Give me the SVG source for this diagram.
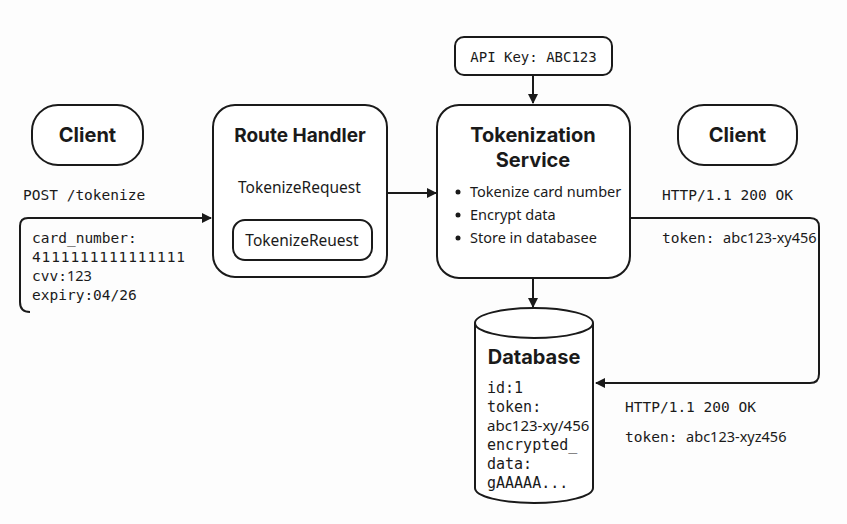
<svg xmlns="http://www.w3.org/2000/svg" width="847" height="524" viewBox="0 0 847 524">
<defs>
<marker id="arr" viewBox="0 0 10 10" refX="9" refY="5" markerWidth="10" markerHeight="10" markerUnits="userSpaceOnUse" orient="auto">
<path d="M0,0 L10,5 L0,10 z" fill="#1a1a1a"/>
</marker>
<style>
.box{fill:#fff;stroke:#1a1a1a;stroke-width:2}
.ln{fill:none;stroke:#1a1a1a;stroke-width:2}
.t{font-family:"Noto Sans","Liberation Sans",sans-serif;fill:#1a1a1a}
.b{font-family:Inter,"Noto Sans","Liberation Sans",sans-serif;font-weight:bold;fill:#1a1a1a}
.m{font-family:"DejaVu Sans Mono","Liberation Mono",monospace;fill:#1a1a1a}
</style>
</defs>
<rect width="847" height="524" fill="#fdfdfd"/>
<g id="connectors">
<path class="ln" d="M30,312 Q20,312 20,302 L20,226 Q20,218 28,218 L211,218" marker-end="url(#arr)"/>
<path class="ln" d="M387,193 L436,193" marker-end="url(#arr)"/>
<path class="ln" d="M533,75 L533,103" marker-end="url(#arr)"/>
<path class="ln" d="M533,278 L533,307" marker-end="url(#arr)"/>
<path class="ln" d="M630,218 L810,218 Q819,218 819,227 L819,374 Q819,383 810,383 L596,383" marker-end="url(#arr)"/>
</g>
<g id="client-left">
<rect class="box" x="32" y="105" width="111" height="60" rx="26"/>
<text class="b" x="87.5" y="142" font-size="20" text-anchor="middle">Client</text>
</g>
<g id="request-label">
<text class="m" x="23" y="200" font-size="14.5">POST /tokenize</text>
<text class="m" x="32" y="243" font-size="14.5">card_number:</text>
<text class="m" x="32" y="262" font-size="14.5" textLength="153">4111111111111111</text>
<text class="m" x="32" y="281" font-size="14.5">cvv:<tspan class="t">123</tspan></text>
<text class="m" x="32" y="300" font-size="14.5">expiry:04/26</text>
</g>
<g id="route-handler">
<rect class="box" x="213" y="105" width="174" height="172" rx="22"/>
<text class="b" x="300" y="142" font-size="19" text-anchor="middle">Route Handler</text>
<text class="t" x="238" y="193" font-size="15.5">TokenizeRequest</text>
<rect class="box" x="233" y="220" width="139" height="40" rx="12"/>
<text class="t" x="302" y="246" font-size="15.5" text-anchor="middle">TokenizeReuest</text>
</g>
<g id="api-key">
<rect class="box" x="455" y="37" width="157" height="38" rx="9"/>
<text class="m" x="533.5" y="62" font-size="14" text-anchor="middle">API Key: <tspan>ABC123</tspan></text>
</g>
<g id="tokenization-service">
<rect class="box" x="437" y="105" width="193" height="173" rx="22"/>
<text class="b" x="533" y="142" font-size="20" text-anchor="middle">Tokenization</text>
<text class="b" x="533" y="167" font-size="20" text-anchor="middle">Service</text>
<circle cx="458" cy="192" r="2.5" fill="#1a1a1a"/>
<circle cx="458" cy="215" r="2.5" fill="#1a1a1a"/>
<circle cx="458" cy="238" r="2.5" fill="#1a1a1a"/>
<text class="t" x="470" y="197" font-size="14.5">Tokenize card number</text>
<text class="t" x="470" y="220" font-size="14.5">Encrypt data</text>
<text class="t" x="470" y="243" font-size="14.5">Store in databasee</text>
</g>
<g id="client-right">
<rect class="box" x="678" y="105" width="119" height="60" rx="26"/>
<text class="b" x="737.5" y="142" font-size="20" text-anchor="middle">Client</text>
</g>
<g id="response-label">
<text class="m" x="662" y="200" font-size="14.5">HTTP/1.1 200 OK</text>
<text class="m" x="662" y="243" font-size="14.5">token: <tspan class="t">abc123-xy456</tspan></text>
<text class="m" x="625" y="412" font-size="14.5">HTTP/1.1 200 OK</text>
<text class="m" x="625" y="442" font-size="14.5">token: <tspan class="t">abc123-xyz456</tspan></text>
</g>
<g id="database">
<path class="box" d="M475,323 L475,488 A59,15 0 0 0 593,488 L593,323"/>
<ellipse class="box" cx="534" cy="323" rx="59" ry="15"/>
<text class="b" x="534" y="364" font-size="20" text-anchor="middle">Database</text>
<text class="m" x="487" y="393" font-size="15">id:1</text>
<text class="m" x="487" y="412" font-size="15">token:</text>
<text class="t" x="487" y="431" font-size="15">abc123-xy/456</text>
<text class="m" x="487" y="450" font-size="15">encrypted_</text>
<text class="m" x="487" y="469" font-size="15">data:</text>
<text class="m" x="487" y="488" font-size="15">gAAAAA...</text>
</g>
</svg>
